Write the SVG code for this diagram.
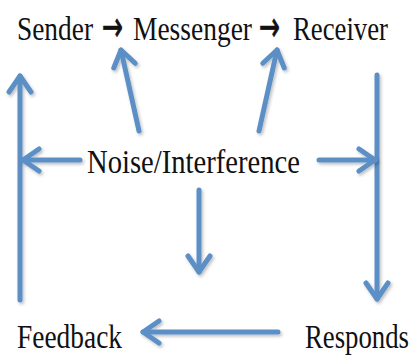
<svg xmlns="http://www.w3.org/2000/svg" width="414" height="361" viewBox="0 0 414 361">
<style>
.t{font-family:"Liberation Serif","DejaVu Serif",serif;font-size:33px;fill:#111}
.a{font-family:"DejaVu Sans",sans-serif;font-size:42px;fill:#111;stroke:#111;stroke-width:0.8}
.c{stroke:#5b8fc6;stroke-width:5;fill:none;stroke-linecap:round;filter:url(#sh)}
</style>
<defs>
<filter id="sh" filterUnits="userSpaceOnUse" x="0" y="0" width="414" height="361">
<feDropShadow dx="1.5" dy="2" stdDeviation="1.5" flood-color="#000" flood-opacity="0.25"/>
</filter>
<marker id="ah" markerUnits="userSpaceOnUse" orient="auto" markerWidth="40" markerHeight="40" refX="0" refY="0" viewBox="-20 -20 40 40" overflow="visible">
<path d="M-16,-11 L0,0 L-16,11" fill="none" stroke="#5b8fc6" stroke-width="5" stroke-linecap="round" stroke-linejoin="round"/>
</marker>
</defs>
<g id="connectors">
<line class="c" x1="20" y1="300" x2="20" y2="76" marker-end="url(#ah)"/>
<line class="c" x1="377" y1="75" x2="377" y2="299" marker-end="url(#ah)"/>
<line class="c" x1="80" y1="160" x2="23" y2="160" marker-end="url(#ah)"/>
<line class="c" x1="319" y1="160" x2="375" y2="160" marker-end="url(#ah)"/>
<line class="c" x1="199" y1="190" x2="199" y2="272" marker-end="url(#ah)"/>
<line class="c" x1="278" y1="332" x2="143" y2="332" marker-end="url(#ah)"/>
<line class="c" x1="139" y1="131" x2="121" y2="50" marker-end="url(#ah)"/>
<line class="c" x1="259" y1="131" x2="277" y2="50" marker-end="url(#ah)"/>
</g>
<g id="sender"><text class="t" x="17" y="40" textLength="76" lengthAdjust="spacingAndGlyphs">Sender</text></g>
<g id="arrow1"><text class="a" x="102" y="41" textLength="21" lengthAdjust="spacingAndGlyphs">→</text></g>
<g id="messenger"><text class="t" x="133" y="40" textLength="119" lengthAdjust="spacingAndGlyphs">Messenger</text></g>
<g id="arrow2"><text class="a" x="259" y="41" textLength="21" lengthAdjust="spacingAndGlyphs">→</text></g>
<g id="receiver"><text class="t" x="293" y="40" textLength="95" lengthAdjust="spacingAndGlyphs">Receiver</text></g>
<g id="noise"><text class="t" x="87" y="173" textLength="213" lengthAdjust="spacingAndGlyphs">Noise/Interference</text></g>
<g id="feedback"><text class="t" x="17" y="348" textLength="105" lengthAdjust="spacingAndGlyphs">Feedback</text></g>
<g id="responds"><text class="t" x="305" y="348" textLength="104" lengthAdjust="spacingAndGlyphs">Responds</text></g>
</svg>
